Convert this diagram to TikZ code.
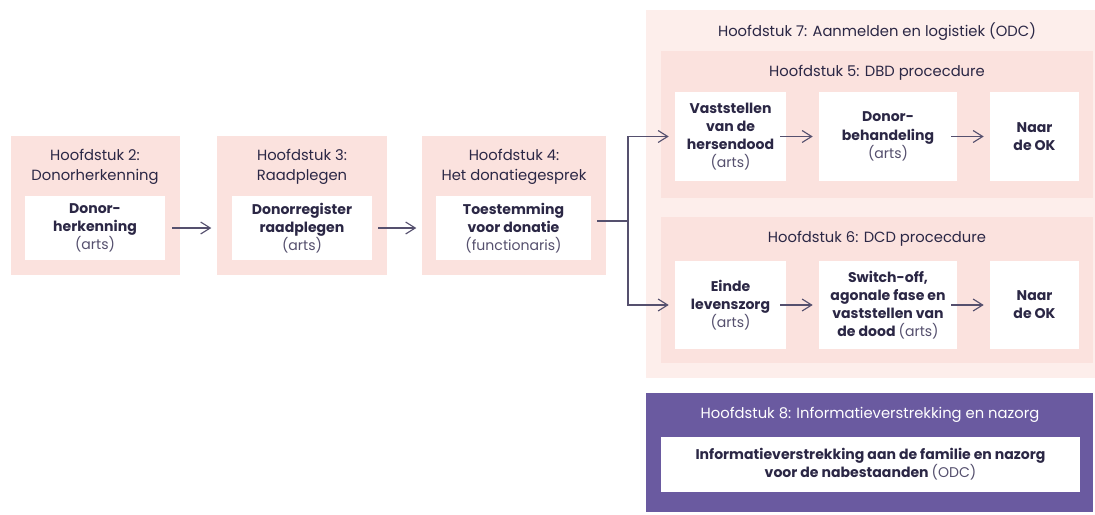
\documentclass[tikz,border=0pt]{standalone}
\usepackage{fontspec}
\setmainfont{Poppins}
\usetikzlibrary{arrows.meta}
\definecolor{roze}{HTML}{FBE2DE}
\definecolor{lichtroze}{HTML}{FDEEEB}
\definecolor{paars}{HTML}{6A5AA0}
\definecolor{inkt}{HTML}{2B2745}
\definecolor{grijs}{HTML}{55506E}
\newcommand{\rol}[1]{{\mdseries\color{grijs}#1}}
\tikzset{
    every node/.style={inner sep=0pt, text=inkt, align=center},
    vlak/.style={fill=roze},
    buitenvlak/.style={fill=lichtroze},
    kop/.style={font=\fontsize{10.5}{14.3}\selectfont, text=inkt},
    taak/.style={fill=white, font=\fontsize{10}{12.9}\selectfont\bfseries}
}
\tikzset{
    pijl/.style={draw=grijs, line width=0.8pt,
    	-{Straight Barb[length=2.4mm, width=3mm]}}
}

\begin{document}
\begin{tikzpicture}[x=0.025cm, y=-0.025cm]
	\useasboundingbox (0,0) rectangle (1095,514);
	% achtergronden
	\fill[vlak] (11,136) rectangle (180,275);
	\fill[vlak] (217,136) rectangle (387,275);
	\fill[vlak] (422,136) rectangle (606,275);
	\fill[buitenvlak] (646,10) rectangle (1095,378);
	\fill[vlak] (661,51) rectangle (1093,198);
	\fill[vlak] (661,217) rectangle (1093,363);
	\fill[paars] (646,393) rectangle (1093,512);
	
	% koppen
	\node (k2) [kop] at (95,167) {Hoofdstuk 2:\\Donorherkenning};
	\node (k3) [kop] at (302,167) {Hoofdstuk 3:\\Raadplegen};
	\node (k4) [kop] at (514,167) {Hoofdstuk 4:\\Het donatiegesprek};
	\node (k7) [kop] at (877,32) {Hoofdstuk 7: Aanmelden en logistiek (ODC)};
	\node (k5) [kop] at (877,73) {Hoofdstuk 5: DBD procecdure};
	\node (k6) [kop] at (877,239) {Hoofdstuk 6: DCD procecdure};
	\node (k8) [kop, text=white] at (870,415) {Hoofdstuk 8: Informatieverstrekking en nazorg};
	
	% taken
	\node (w2) [taak, minimum width=3.5cm, minimum height=1.6cm] at (95,228)
		{Donor-\\herkenning\\\rol{(arts)}};
	\node (w3) [taak, minimum width=3.5cm, minimum height=1.6cm] at (302,228)
		{Donorregister\\raadplegen\\\rol{(arts)}};
	\node (w4) [taak, minimum width=3.875cm, minimum height=1.6cm] at (513.5,228)
		{Toestemming\\voor donatie\\\rol{(functionaris)}};
	\node (a1) [taak, minimum width=2.775cm, minimum height=2.225cm] at (730.5,136.5)
		{Vaststellen\\van de\\hersendood\\\rol{(arts)}};
	\node (a2) [taak, minimum width=3.45cm, minimum height=2.225cm] at (888,136.5)
		{Donor-\\behandeling\\\rol{(arts)}};
	\node (a3) [taak, minimum width=2.225cm, minimum height=2.225cm] at (1034.5,136.5)
		{Naar\\de OK};
	\node (b1) [taak, minimum width=2.775cm, minimum height=2.2cm] at (730.5,305)
		{Einde\\levenszorg\\\rol{(arts)}};
	\node (b2) [taak, minimum width=3.45cm, minimum height=2.2cm] at (888,305)
		{Switch-off,\\agonale fase en\\vaststellen van\\de dood \rol{(arts)}};
	\node (b3) [taak, minimum width=2.225cm, minimum height=2.2cm] at (1034.5,305)
		{Naar\\de OK};
	\node (w8) [taak, minimum width=10.475cm, minimum height=1.375cm] at (870.5,464.5)
		{Informatieverstrekking aan de familie en nazorg\\voor de nabestaanden \rol{(ODC)}};
	
	\coordinate (busin) at (597,221);
	\coordinate (bus) at (628,221);
	
	\draw[pijl] (w2.east) ++(7,0) -- ++(39,0);
	\draw[pijl] (w3.east) ++(6,0) -- ++(38,0);
	\draw[draw=grijs, line width=0.8pt] (busin) -- (bus);
	\draw[pijl, shorten >=0.15cm] (bus) |- (a1.west);
	\draw[pijl, shorten >=0.15cm] (bus) |- (b1.west);
	\draw[pijl, shorten <=-0.15cm, shorten >=0.15cm] (a1) -- (a2);
	\draw[pijl, shorten <=-0.15cm, shorten >=0.15cm] (a2) -- (a3);
	\draw[pijl, shorten <=-0.15cm, shorten >=0.15cm] (b1) -- (b2);
	\draw[pijl, shorten <=-0.15cm, shorten >=0.15cm] (b2) -- (b3);
\end{tikzpicture}
\end{document}
